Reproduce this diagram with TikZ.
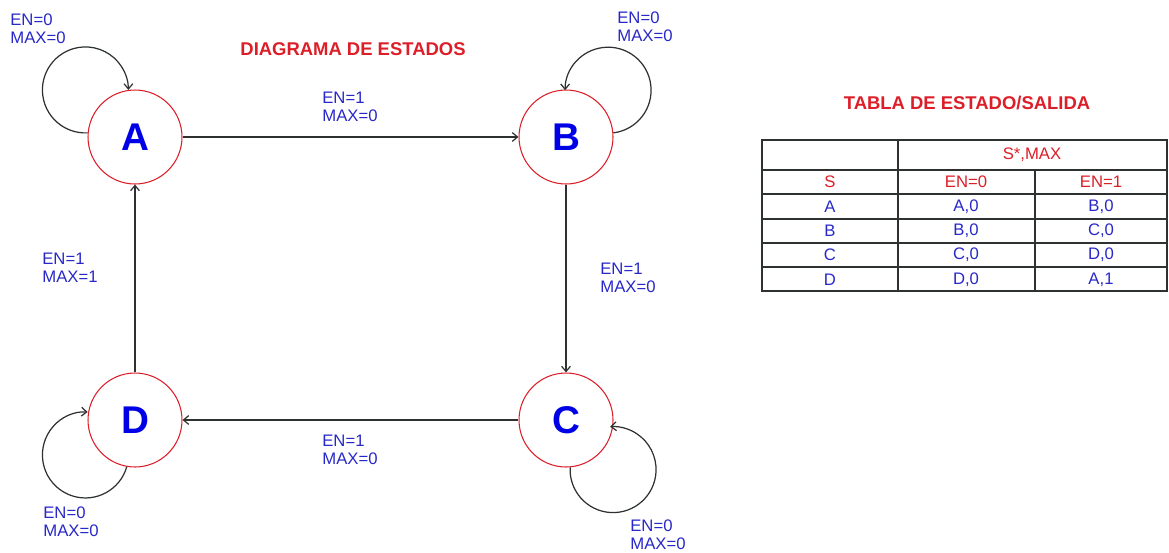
\documentclass[tikz,border=0pt]{standalone}
\usepackage{fontspec}
\setmainfont{Liberation Sans}
\setsansfont{Liberation Sans}
\usetikzlibrary{arrows.meta,positioning}
\definecolor{estado}{RGB}{220,30,40}
\definecolor{etiq}{RGB}{40,40,200}
\definecolor{letra}{RGB}{0,0,230}
\definecolor{linea}{RGB}{45,50,48}
\begin{document}
\begin{tikzpicture}[x=0.02cm, y=-0.02cm,
  every node/.style={font=\sffamily\fontsize{9.5}{10.5}\selectfont},
  state/.style={circle, draw=estado, line width=0.6pt, minimum size=1.88cm,
                inner sep=0pt, text=letra, font=\sffamily\bfseries\fontsize{22}{22}\selectfont},
  lbl/.style={text=etiq, align=left, anchor=west, inner sep=0pt},
  titulo/.style={text=estado, font=\sffamily\bfseries\fontsize{10.5}{12}\selectfont},
  trans/.style={draw=linea, line width=0.7pt, -{Straight Barb[length=3pt,width=5pt]}},
  tabla/.style={draw=linea, line width=1pt},
  rojo/.style={text=estado, inner sep=0pt},
  azul/.style={text=etiq, inner sep=0pt}
]
\useasboundingbox (0,0) rectangle (1169,552);

\node[titulo] (tdiag) at (353,49) {DIAGRAMA DE ESTADOS};

% Estados
\node[state] (A) at (135,137) {A};
\node[state] (B) at (566,137) {B};
\node[state] (C) at (566,420) {C};
\node[state] (D) at (135,420) {D};

% Transiciones
\draw[trans] (A) -- (B);
\draw[trans] (B) -- (C);
\draw[trans] (C) -- (D);
\draw[trans] (D) -- (A);

% Lazos
\draw[trans] (A.175) arc[start angle=-87, end angle=-360, radius=0.86cm];
\draw[trans] (B.5) arc[start angle=-83, end angle=180, radius=0.86cm];
\draw[trans] (C.275) arc[start angle=177, end angle=454, radius=0.86cm];
\draw[trans] (D.260) arc[start angle=-16, end angle=-273, radius=0.86cm];

% Etiquetas
\node[lbl] (lA)  at (10,29)   {EN=0\\MAX=0};
\node[lbl] (lB)  at (617,27)  {EN=0\\MAX=0};
\node[lbl] (lC)  at (630,535) {EN=0\\MAX=0};
\node[lbl] (lD)  at (43,522)  {EN=0\\MAX=0};
\node[lbl] (lAB) at (322,107) {EN=1\\MAX=0};
\node[lbl] (lBC) at (600,278) {EN=1\\MAX=0};
\node[lbl] (lCD) at (322,450) {EN=1\\MAX=0};
\node[lbl] (lDA) at (42,268)  {EN=1\\MAX=1};

% Tabla
\node[titulo] (ttab) at (967,103) {TABLA DE ESTADO/SALIDA};
\draw[tabla] (762,140) rectangle (1167,291);
\foreach \y in {219,243,267}
  \draw[tabla] (762,\y) -- (1167,\y);
\draw[tabla, line width=1.6pt] (762,170) -- (1167,170);
\draw[tabla, line width=1.6pt] (762,194) -- (1167,194);
\draw[tabla] (898,140) -- (898,291);
\draw[tabla] (1035,170) -- (1035,291);

\node[rojo] (hsal) at (1032,155) {S*,MAX};
\node[rojo] (hs)   at (830,182)  {S};
\node[rojo] (he0)  at (966,182)  {EN=0};
\node[rojo] (he1)  at (1101,182) {EN=1};
\foreach \s/\a/\b [count=\i] in {A/{A,0}/{B,0}, B/{B,0}/{C,0}, C/{C,0}/{D,0}, D/{D,0}/{A,1}} {
  \node[azul] (s\i) at (830,{182+24.4*\i})  {\s};
  \node[azul] (a\i) at (966,{182+24.4*\i})  {\a};
  \node[azul] (b\i) at (1101,{182+24.4*\i}) {\b};
}
\end{tikzpicture}
\end{document}
